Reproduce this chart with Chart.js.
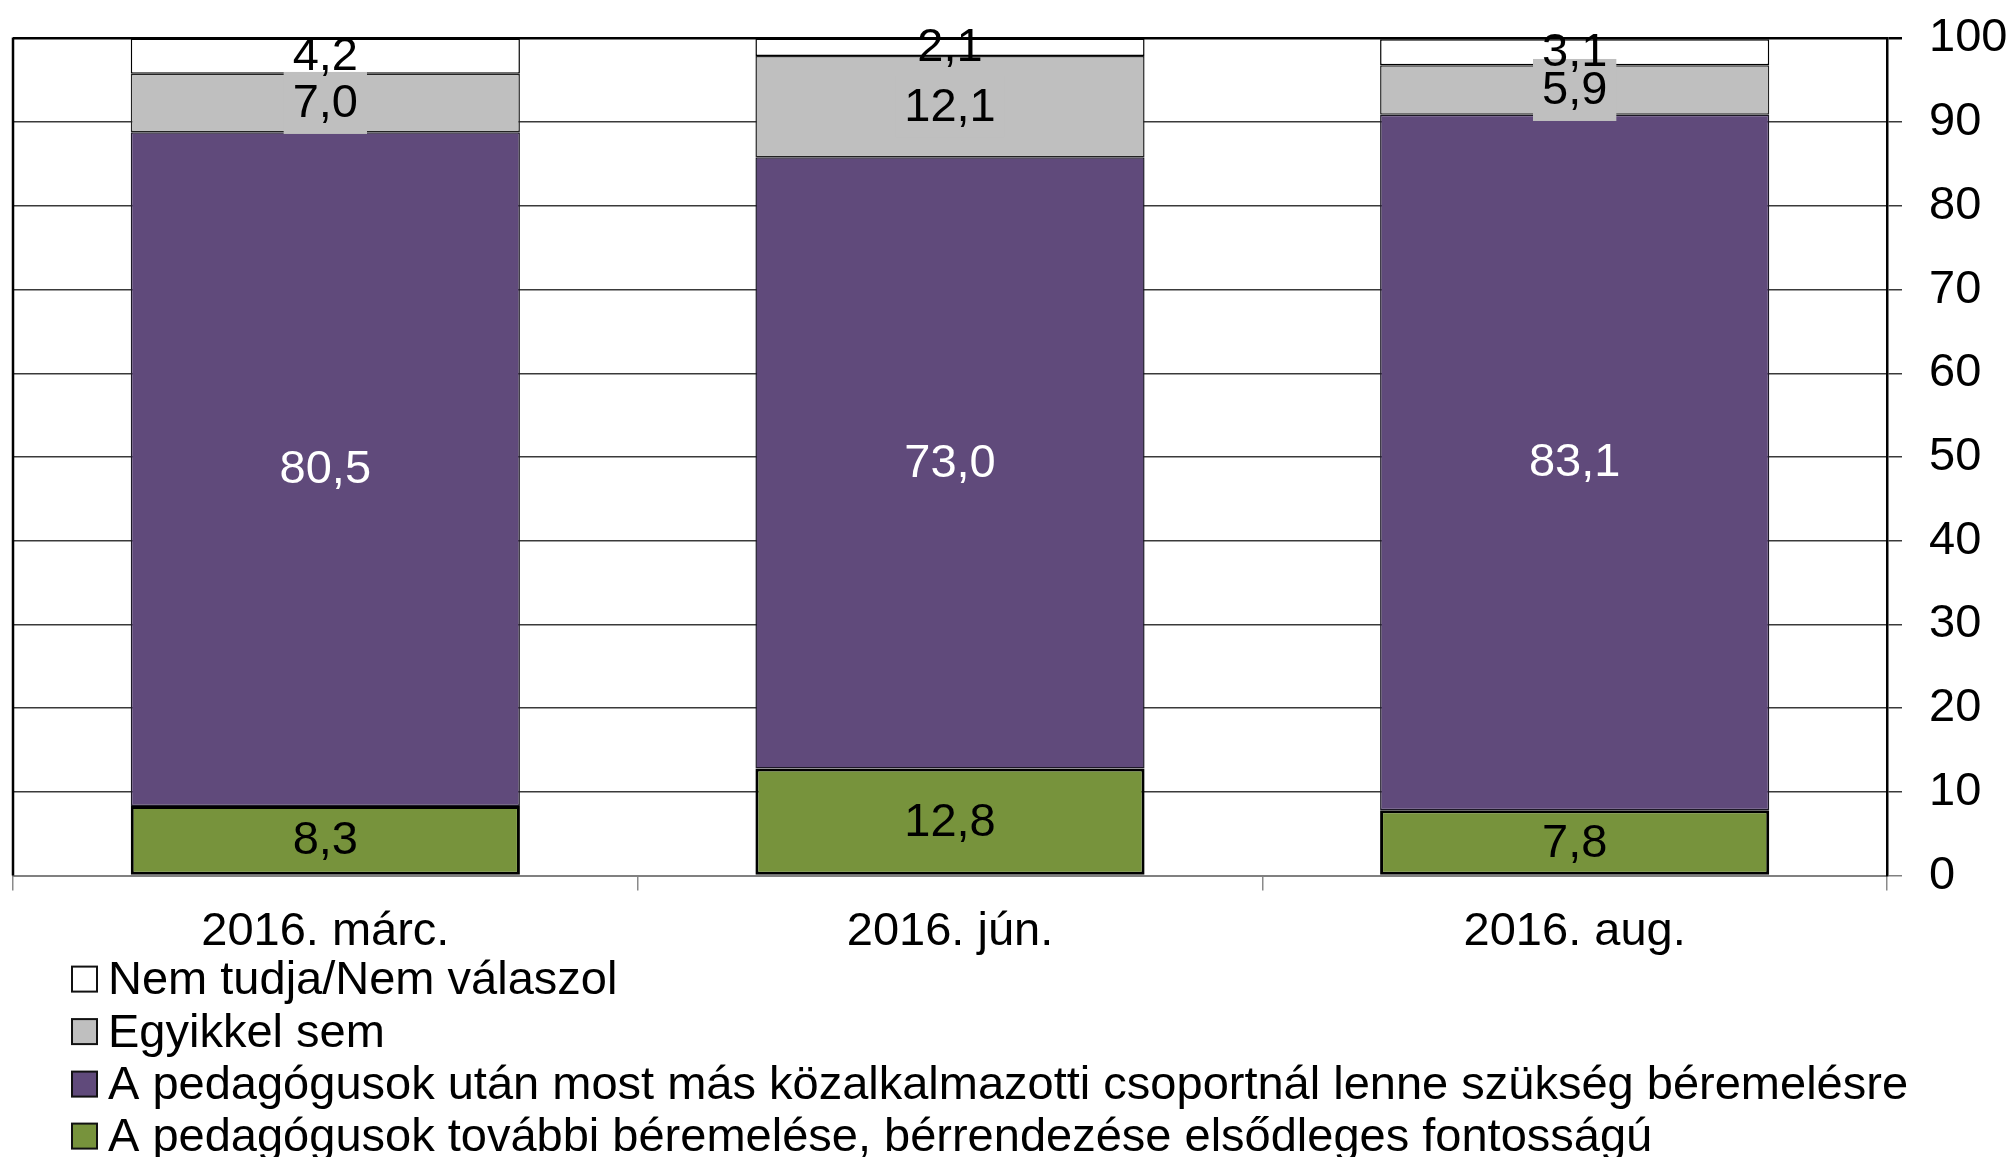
<!DOCTYPE html>
<html><head><meta charset="utf-8">
<script src="https://cdn.jsdelivr.net/npm/chart.js@4.4.1/dist/chart.umd.min.js"></script>
<style>html,body{margin:0;padding:0;background:#fff;overflow:hidden}canvas{display:block}</style>
</head><body>
<canvas id="c" width="2010" height="1157"></canvas>
<script>
const categories = ['2016. márc.', '2016. jún.', '2016. aug.'];
const seriesNames = [
  'A pedagógusok további béremelése, bérrendezése elsődleges fontosságú',
  'A pedagógusok után most más közalkalmazotti csoportnál lenne szükség béremelésre',
  'Egyikkel sem',
  'Nem tudja/Nem válaszol'
];
const greenValues = [8.3, 12.8, 7.8];
const purpleValues = [80.5, 73.0, 83.1];
const grayValues = [7.0, 12.1, 5.9];
const whiteValues = [4.2, 2.1, 3.1];
const yTickLabels = ['0','10','20','30','40','50','60','70','80','90','100'];

const FONT = '"Liberation Sans", Arial, sans-serif';
const FS = 47;

const datasets = [
  {label: seriesNames[0], data: greenValues, backgroundColor: '#77933C', borderColor: '#000', borderWidth: 3, _lc: '#000'},
  {label: seriesNames[1], data: purpleValues, backgroundColor: '#604A7B', borderColor: '#1c1826', borderWidth: 1.5, _lc: '#fff'},
  {label: seriesNames[2], data: grayValues, backgroundColor: '#BFBFBF', borderColor: '#222', borderWidth: 1.5, _lc: '#000', _lbg: '#BFBFBF'},
  {label: seriesNames[3], data: whiteValues, backgroundColor: '#FFFFFF', borderColor: '#000', borderWidth: 1.5, _lc: '#000'}
];

const fmt = v => v.toFixed(1).replace('.', ',');

const leftBorder = {
  id: 'leftBorder',
  beforeDatasetsDraw(chart) {
    const {ctx, chartArea: a} = chart;
    ctx.save();
    ctx.strokeStyle = '#000';
    ctx.lineWidth = 2.5;
    ctx.beginPath();
    ctx.moveTo(a.left, a.top - 1);
    ctx.lineTo(a.left, a.bottom);
    ctx.stroke();
    ctx.restore();
  }
};

const valueLabels = {
  id: 'valueLabels',
  afterDatasetsDraw(chart) {
    const ctx = chart.ctx;
    ctx.save();
    ctx.font = FS + 'px ' + FONT;
    ctx.textAlign = 'center';
    ctx.textBaseline = 'middle';
    const items = [];
    chart.data.datasets.forEach((ds, i) => {
      const meta = chart.getDatasetMeta(i);
      meta.data.forEach((el, j) => {
        const t = fmt(ds.data[j]);
        items.push({x: el.x, y: (el.y + el.base) / 2, t, ds});
      });
    });
    items.forEach(it => {
      if (it.ds._lbg) {
        const w = ctx.measureText(it.t).width + 18;
        const h = 62;
        ctx.fillStyle = it.ds._lbg;
        ctx.fillRect(it.x - w / 2, it.y - h / 2, w, h);
      }
    });
    items.forEach(it => {
      ctx.fillStyle = it.ds._lc;
      ctx.fillText(it.t, it.x, it.y + 1);
    });
    ctx.restore();
  }
};

const customLegend = {
  id: 'customLegend',
  afterDraw(chart) {
    const ctx = chart.ctx;
    const b = chart.chartArea.bottom;
    const rows = [103.5, 156, 208.5, 260.5];
    const order = [3, 2, 1, 0];
    ctx.save();
    ctx.font = FS + 'px ' + FONT;
    ctx.textAlign = 'left';
    ctx.textBaseline = 'middle';
    order.forEach((di, k) => {
      const ds = chart.data.datasets[di];
      const yc = b + rows[k];
      ctx.fillStyle = ds.backgroundColor;
      ctx.fillRect(72, yc - 12.5, 25, 25);
      ctx.strokeStyle = '#111';
      ctx.lineWidth = 2;
      ctx.strokeRect(72, yc - 12.5, 25, 25);
      ctx.fillStyle = '#000';
      ctx.fillText(ds.label, 108, yc + 2);
    });
    ctx.restore();
  }
};

new Chart(document.getElementById('c'), {
  type: 'bar',
  data: {labels: categories, datasets},
  options: {
    responsive: false,
    animation: false,
    devicePixelRatio: 1,
    layout: {padding: {left: 13, top: 38.5, right: 0, bottom: 191.4}},
    datasets: {bar: {categoryPercentage: 1, barPercentage: 0.623, borderSkipped: false}},
    plugins: {legend: {display: false}, tooltip: {enabled: false}},
    scales: {
      x: {
        stacked: true,
        offset: true,
        grid: {offset: true, drawOnChartArea: false, drawTicks: true, tickLength: 15, color: '#8a8a8a', lineWidth: 1.5},
        border: {display: true, color: '#808080', width: 2},
        ticks: {color: '#000', font: {family: FONT, size: FS}, padding: 13, maxRotation: 0, autoSkip: false},
        afterFit(s) { s.height = 90; s.paddingLeft = 0; s.paddingRight = 0; }
      },
      y: {
        stacked: true,
        position: 'right',
        min: 0, max: 100,
        grid: {
          color: c => c.tick && c.tick.value === 100 ? '#000' : (c.tick && c.tick.value === 0 ? '#808080' : '#3a3a3a'),
          lineWidth: c => c.tick && c.tick.value === 100 ? 2.5 : 1.5,
          drawTicks: true, tickLength: 15
        },
        border: {display: true, color: '#000', width: 2.5},
        ticks: {
          stepSize: 10, color: '#000', font: {family: FONT, size: FS}, padding: 27,
          callback: (v, i) => yTickLabels[i]
        },
        afterFit(s) { s.width = 123; s.paddingTop = 0; s.paddingBottom = 0; }
      }
    }
  },
  plugins: [leftBorder, valueLabels, customLegend]
});
</script>
</body></html>
